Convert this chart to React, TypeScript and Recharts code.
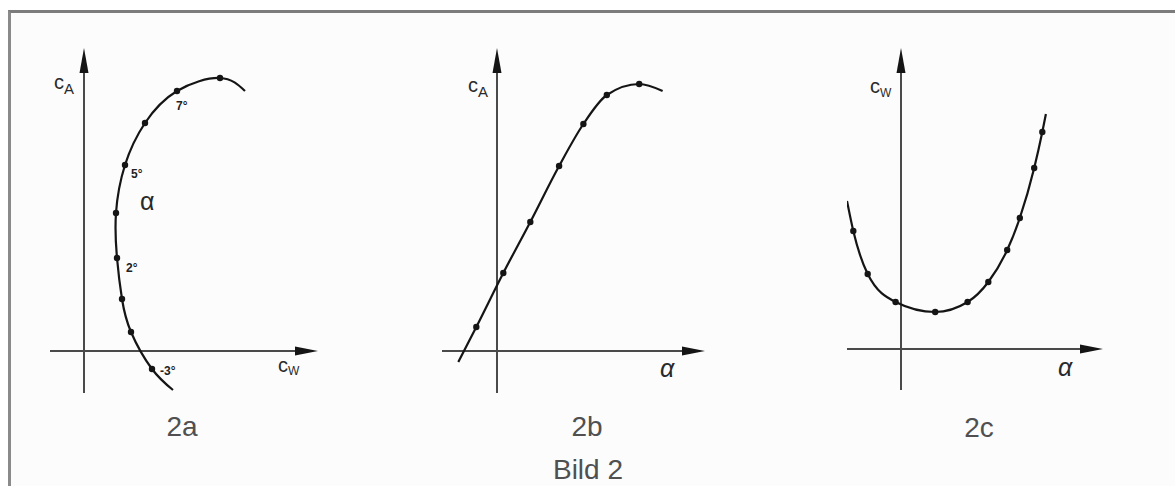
import { ComposedChart, Line, Scatter, XAxis, YAxis, ReferenceLine } from 'recharts'

// Bild 2a: Polare, cA über cW (gemessene Punkte + Kurvenenden)
const polarDotCw = [0.034, 0.0235, 0.019, 0.0165, 0.016, 0.0205, 0.0305, 0.0465, 0.068]
const polarDotCa = [-0.09, 0.095, 0.26, 0.465, 0.69, 0.93, 1.14, 1.3, 1.365]
const polarDotLabel = ['-3°', '', '', '2°', '', '5°', '', '7°', '']
const polarEndCw = [0.0445, 0.0805]
const polarEndCa = [-0.195, 1.3]

// Bild 2b: cA über alpha
const liftDotAlpha = [-2.3, 0.7, 3.7, 6.9, 9.6, 12.2, 15.8]
const liftDotCa = [0.12, 0.39, 0.645, 0.925, 1.135, 1.28, 1.335]
const liftEndAlpha = [-4.3, 18.4]
const liftEndCa = [-0.055, 1.3]

// Bild 2c: cW über alpha
const dragDotAlpha = [-5.3, -3.7, -0.6, 3.8, 7.4, 9.7, 11.8, 13.2, 14.8, 15.7]
const dragDotCw = [0.059, 0.0375, 0.0235, 0.0185, 0.0235, 0.0335, 0.0495, 0.0655, 0.0905, 0.1085]
const dragEndAlpha = [-6.0, 16.1]
const dragEndCw = [0.074, 0.1175]

type Pt = { x: number; y: number; label?: string }

function buildDots(xs: number[], ys: number[], labels?: string[]): Pt[] {
    return xs.map((x, i) => ({ x, y: ys[i], label: labels ? labels[i] : '' }))
}

function buildCurve(dots: Pt[], endX: number[], endY: number[]): Pt[] {
    return [{ x: endX[0], y: endY[0] }, ...dots, { x: endX[1], y: endY[1] }]
}

const AXIS = '#4a4a4a'
const INK = '#151515'

// Achse mit Pfeilspitze (oben bzw. rechts)
const AxisArrow = (props: any) => {
    const { x1, y1, x2, y2 } = props
    if (Math.abs(x1 - x2) < 1) {
        const top = Math.min(y1, y2)
        const bottom = Math.max(y1, y2)
        return (
            <g>
                <line x1={x1} y1={bottom} x2={x1} y2={top + 8} stroke={AXIS} strokeWidth={2} />
                <polygon points={`${x1},${top} ${x1 - 4.5},${top + 25} ${x1 + 4.5},${top + 25}`} fill={INK} />
            </g>
        )
    }
    const left = Math.min(x1, x2)
    const right = Math.max(x1, x2)
    return (
        <g>
            <line x1={left} y1={y1} x2={right - 8} y2={y1} stroke={AXIS} strokeWidth={2} />
            <polygon points={`${right},${y1} ${right - 23},${y1 - 4.5} ${right - 23},${y1 + 4.5}`} fill={INK} />
        </g>
    )
}

const labelOffset: { [key: string]: [number, number] } = {
    '-3°': [8, 6],
    '2°': [9, 14],
    '5°': [6, 13],
    '7°': [-1, 19],
}

const MeasuredDot = (props: any) => {
    const { cx, cy, payload } = props
    const label: string = payload?.label || ''
    const off = labelOffset[label] || [0, 0]
    return (
        <g>
            <circle cx={cx} cy={cy} r={3.2} fill={INK} />
            {label && (
                <text
                    x={cx + off[0]}
                    y={cy + off[1]}
                    fontSize={12}
                    fontWeight={700}
                    fontFamily="Liberation Sans, Arial, sans-serif"
                    fill="#222"
                >
                    {label}
                </text>
            )}
        </g>
    )
}

interface PanelProps {
    left: number
    width: number
    margin: { top: number; right: number; bottom: number; left: number }
    xDomain: [number, number]
    yDomain: [number, number]
    curve: Pt[]
    dots: Pt[]
    curveType: 'natural' | 'monotone'
}

function Panel({ left, width, margin, xDomain, yDomain, curve, dots, curveType }: PanelProps) {
    return (
        <div style={{ position: 'absolute', left, top: 0 }}>
            <ComposedChart width={width} height={486} margin={margin}>
                <XAxis type="number" dataKey="x" domain={xDomain} allowDataOverflow hide />
                <YAxis type="number" dataKey="y" domain={yDomain} allowDataOverflow hide />
                <ReferenceLine x={0} shape={AxisArrow} />
                <ReferenceLine y={0} shape={AxisArrow} />
                <Line
                    data={curve}
                    dataKey="y"
                    type={curveType}
                    stroke={INK}
                    strokeWidth={2.2}
                    dot={false}
                    activeDot={false}
                    isAnimationActive={false}
                />
                <Scatter data={dots} shape={MeasuredDot} isAnimationActive={false} />
            </ComposedChart>
        </div>
    )
}

const font = 'Liberation Sans, Arial, sans-serif'

export default function App() {
    const polarDots = buildDots(polarDotCw, polarDotCa, polarDotLabel)
    const liftDots = buildDots(liftDotAlpha, liftDotCa)
    const dragDots = buildDots(dragDotAlpha, dragDotCw)

    return (
        <div style={{ position: 'absolute', left: 0, top: 0, width: 1175, height: 486, background: '#fff', overflow: 'hidden' }}>
            <div
                style={{
                    position: 'absolute',
                    left: 8,
                    top: 10,
                    width: 1175,
                    height: 486,
                    background: '#fcfcfc',
                    borderTop: '3px solid #7c7c7c',
                    borderLeft: '3px solid #8a8a8a',
                }}
            />
            <Panel
                left={0}
                width={380}
                margin={{ top: 48, right: 62, bottom: 93, left: 50 }}
                xDomain={[-0.017, 0.117]}
                yDomain={[-0.21, 1.515]}
                curve={buildCurve(polarDots, polarEndCw, polarEndCa)}
                dots={polarDots}
                curveType="natural"
            />
            <Panel
                left={400}
                width={380}
                margin={{ top: 48, right: 75, bottom: 93, left: 42 }}
                xDomain={[-6.111, 23.111]}
                yDomain={[-0.21, 1.515]}
                curve={buildCurve(liftDots, liftEndAlpha, liftEndCa)}
                dots={liftDots}
                curveType="monotone"
            />
            <Panel
                left={790}
                width={385}
                margin={{ top: 48, right: 72, bottom: 96, left: 57 }}
                xDomain={[-6, 22.444]}
                yDomain={[-0.0205, 0.1505]}
                curve={buildCurve(dragDots, dragEndAlpha, dragEndCw)}
                dots={dragDots}
                curveType="monotone"
            />
            <svg width={1175} height={486} style={{ position: 'absolute', left: 0, top: 0, pointerEvents: 'none' }}>
                <g fontFamily={font} fill="#2a2a2a">
                    <text x={54} y={89} fontSize={20}>c<tspan dy={5} fontSize={15}>A</tspan></text>
                    <text x={278} y={372} fontSize={20}>c<tspan dy={3} fontSize={12}>W</tspan></text>
                    <text x={140} y={210} fontSize={25}>α</text>

                    <text x={468} y={92} fontSize={20}>c<tspan dy={5} fontSize={15}>A</tspan></text>
                    <text x={660} y={377} fontSize={25} fontStyle="italic">α</text>

                    <text x={870} y={93} fontSize={20}>c<tspan dy={4} fontSize={12}>W</tspan></text>
                    <text x={1058} y={376} fontSize={25} fontStyle="italic">α</text>
                </g>
                <g fontFamily={font} fill="#505050" fontSize={28} textAnchor="middle">
                    <text x={182} y={436}>2a</text>
                    <text x={587} y={436}>2b</text>
                    <text x={979} y={437}>2c</text>
                    <text x={588} y={479}>Bild 2</text>
                </g>
            </svg>
        </div>
    )
}
